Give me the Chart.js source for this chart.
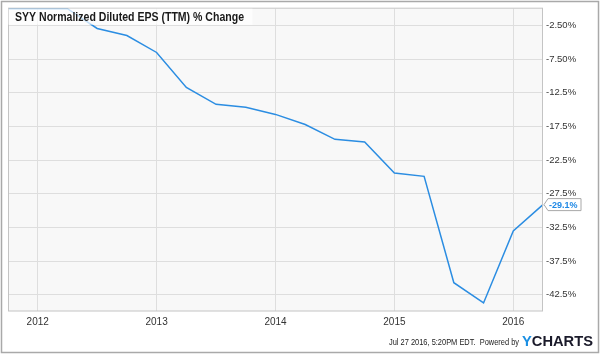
<!DOCTYPE html>
<html>
<head>
<meta charset="utf-8">
<script src="https://cdn.jsdelivr.net/npm/chart.js@4.4.1/dist/chart.umd.min.js"></script>
<style>
  html, body { margin: 0; padding: 0; background: #fff; }
  #c { display: block; }
</style>
</head>
<body>
<canvas id="c" width="600" height="354"></canvas>
<script>
// ---- Data ----
const periods = [2011.75, 2012, 2012.25, 2012.5, 2012.75, 2013, 2013.25, 2013.5, 2013.75,
                 2014, 2014.25, 2014.5, 2014.75, 2015, 2015.25, 2015.5, 2015.75, 2016, 2016.25];
const epsChange = [0, 0, 0, -2.94, -3.98, -6.5, -11.7, -14.2, -14.65,
                   -15.7, -17.2, -19.4, -19.8, -24.4, -24.9, -40.7, -43.7, -33.0, -29.1];
const xTickValues = [2012, 2013, 2014, 2015, 2016];
const xTickLabels = ['2012', '2013', '2014', '2015', '2016'];
const yTickValues = [-2.5, -7.5, -12.5, -17.5, -22.5, -27.5, -32.5, -37.5, -42.5];
const yTickLabels = ['-2.50%', '-7.50%', '-12.5%', '-17.5%', '-22.5%', '-27.5%', '-32.5%', '-37.5%', '-42.5%'];
const chartTitle = 'SYY Normalized Diluted EPS (TTM) % Change';
const lastLabel = '-29.1%';
const footerText = 'Jul 27 2016, 5:20PM EDT.  Powered by';

const LINE_COLOR = '#2b8de2';
const FONT = '"Liberation Sans", Arial, sans-serif';

const decor = {
  id: 'decor',
  beforeDraw(chart) {
    const ctx = chart.ctx, a = chart.chartArea;
    ctx.save();
    ctx.fillStyle = '#ffffff';
    ctx.fillRect(0, 0, chart.width, chart.height);
    ctx.fillStyle = '#f8f8f8';
    ctx.fillRect(a.left, a.top, a.right - a.left, a.bottom - a.top);
    ctx.restore();
  },
  afterDatasetsDraw(chart) {
    const ctx = chart.ctx, a = chart.chartArea;
    ctx.save();
    // plot border
    ctx.strokeStyle = '#c4c4c4';
    ctx.lineWidth = 1;
    ctx.strokeRect(a.left + 0.5, a.top - 0.5, a.right - a.left - 1, a.bottom - a.top + 0.5);
    // title box
    ctx.fillStyle = 'rgba(255,255,255,0.72)';
    ctx.fillRect(a.left + 0.5, a.top, 244, 16);
    ctx.fillStyle = '#1a1a1a';
    ctx.font = 'bold 12px ' + FONT;
    ctx.textBaseline = 'middle';
    ctx.textAlign = 'left';
    const tw = ctx.measureText(chartTitle).width;
    ctx.save();
    ctx.translate(15, a.top + 9);
    ctx.scale(229 / tw, 1);
    ctx.fillText(chartTitle, 0, 0);
    ctx.restore();

    // last value label
    const meta = chart.getDatasetMeta(0);
    const pt = meta.data[meta.data.length - 1];
    const px = pt.x, py = pt.y;
    ctx.beginPath();
    ctx.moveTo(px + 1, py);
    ctx.lineTo(px + 5, py - 6);
    ctx.lineTo(px + 38, py - 6);
    ctx.lineTo(px + 38, py + 6);
    ctx.lineTo(px + 5, py + 6);
    ctx.closePath();
    ctx.fillStyle = '#ffffff';
    ctx.fill();
    ctx.strokeStyle = '#a8a8a8';
    ctx.lineWidth = 1;
    ctx.stroke();
    ctx.fillStyle = '#1e88e5';
    ctx.font = 'bold 9px ' + FONT;
    ctx.textBaseline = 'middle';
    ctx.fillText(lastLabel, px + 6, py + 0.5);

    // footer
    ctx.fillStyle = '#222';
    ctx.font = '9px ' + FONT;
    ctx.textBaseline = 'alphabetic';
    const fw = ctx.measureText(footerText).width;
    ctx.save();
    ctx.translate(389, 345);
    ctx.scale(130 / fw, 1);
    ctx.fillText(footerText, 0, 0);
    ctx.restore();
    ctx.font = 'bold 15px ' + FONT;
    const yw = ctx.measureText('Y').width;
    const cw = ctx.measureText('CHARTS').width;
    const sc = 71 / (yw + cw);
    ctx.save();
    ctx.translate(522, 346);
    ctx.scale(sc, 1);
    ctx.fillStyle = '#1a8fe3';
    ctx.fillText('Y', 0, 0);
    ctx.fillStyle = '#1a1a2a';
    ctx.fillText('CHARTS', yw, 0);
    ctx.restore();

    // outer frame
    ctx.strokeStyle = '#a9a9a9';
    ctx.lineWidth = 1.5;
    ctx.strokeRect(1.5, 1.5, chart.width - 3, chart.height - 3);
    ctx.restore();
  }
};

new Chart(document.getElementById('c'), {
  type: 'line',
  data: {
    datasets: [{
      data: periods.map((p, i) => ({ x: p, y: epsChange[i] })),
      borderColor: LINE_COLOR,
      borderWidth: 1.5,
      pointRadius: 0,
      tension: 0,
      fill: false,
      clip: false
    }]
  },
  options: {
    responsive: false,
    animation: false,
    devicePixelRatio: 1,
    layout: { padding: { left: 8, top: 8, right: 0, bottom: 0 } },
    plugins: { legend: { display: false }, tooltip: { enabled: false }, title: { display: false } },
    scales: {
      x: {
        type: 'linear',
        position: 'bottom',
        min: periods[0],
        max: periods[periods.length - 1],
        afterBuildTicks(scale) { scale.ticks = xTickValues.map(v => ({ value: v })); },
        afterFit(scale) { scale.height = 43; },
        ticks: {
          autoSkip: false,
          maxRotation: 0,
          padding: 5,
          color: '#333',
          font: { family: FONT, size: 10 },
          callback: (v) => xTickLabels[xTickValues.indexOf(v)] ?? ''
        },
        grid: { color: '#dedede', drawTicks: false, lineWidth: 1 },
        border: { display: false }
      },
      y: {
        type: 'linear',
        position: 'right',
        min: -44.9,
        max: 0,
        afterBuildTicks(scale) { scale.ticks = yTickValues.map(v => ({ value: v })); },
        afterFit(scale) { scale.width = 57; },
        ticks: {
          autoSkip: false,
          padding: 3,
          color: '#333',
          font: { family: FONT, size: 9.5 },
          callback: (v) => yTickLabels[yTickValues.indexOf(v)] ?? ''
        },
        grid: { color: '#dedede', drawTicks: false, lineWidth: 1 },
        border: { display: false }
      }
    }
  },
  plugins: [decor]
});
</script>
</body>
</html>
